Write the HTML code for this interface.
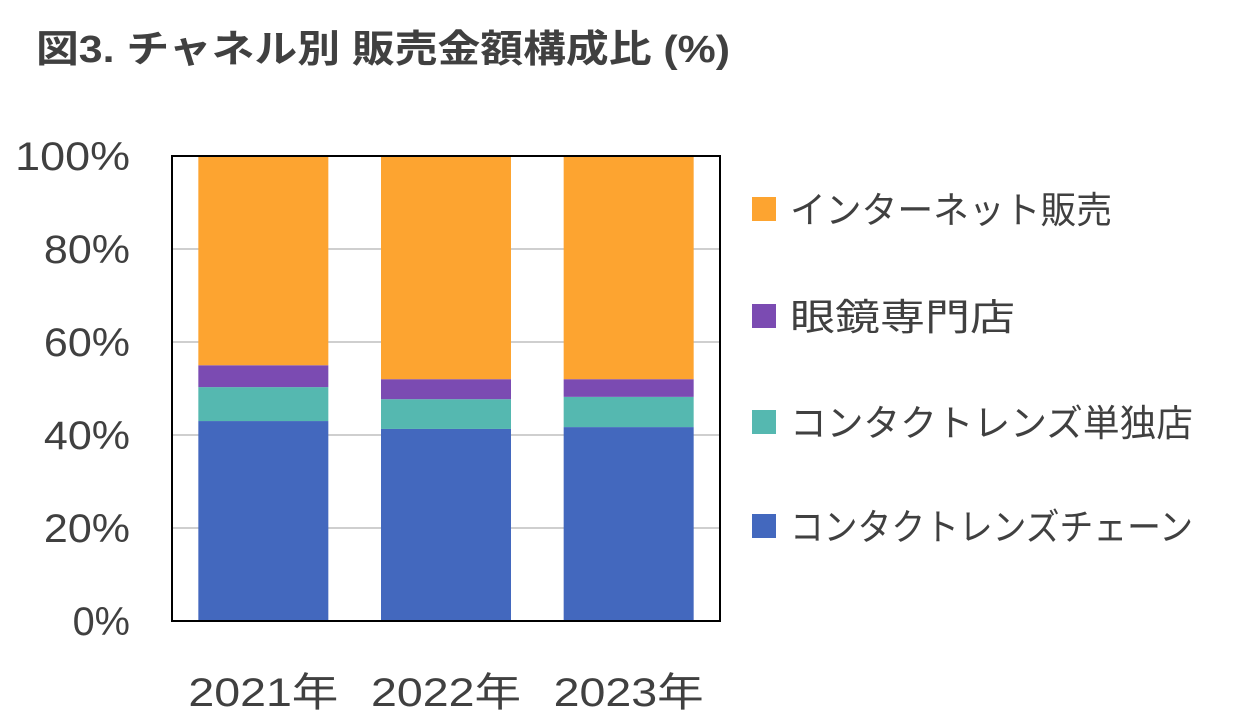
<!DOCTYPE html>
<html><head><meta charset="utf-8"><style>
body{margin:0;background:#fff;width:1238px;height:721px;overflow:hidden;font-family:"Liberation Sans","Noto Sans CJK JP",sans-serif;}
</style></head><body>
<svg id="chart" width="1238" height="721" xmlns="http://www.w3.org/2000/svg">
<text x="36" y="62" font-size="38" font-weight="bold" fill="#404040" textLength="694" lengthAdjust="spacingAndGlyphs" font-family="Liberation Sans, Noto Sans CJK JP, sans-serif">図3. チャネル別 販売金額構成比 (%)</text>
<g id="grid"></g><g id="bars"></g><g id="axes"></g><g id="legend"></g>
</svg>
<script>
const categories=["2021年","2022年","2023年"];
const seriesNames=["コンタクトレンズチェーン","コンタクトレンズ単独店","眼鏡専門店","インターネット販売"];
const chain=[43.0,41.3,41.7];
const single=[7.3,6.4,6.5];
const optical=[4.7,4.3,3.8];
const internet=[45.0,48.0,48.0];
const ticks=[0,20,40,60,80,100];
const colors=["#4368BE","#55B8B0","#7B4BB2","#FDA430"];
const legendWidths=[403,403,225,322];
const series=[chain,single,optical,internet];
const ns="http://www.w3.org/2000/svg";
const L=172,R=720,T=156,B=621;
const y=v=>B-(v/100)*(B-T);
const bw=(R-L)/categories.length, barW=130;
function mk(tag,attrs,parent){const e=document.createElementNS(ns,tag);for(const k in attrs)e.setAttribute(k,attrs[k]);parent.appendChild(e);return e;}
const grid=document.getElementById('grid'),bars=document.getElementById('bars'),axes=document.getElementById('axes'),legend=document.getElementById('legend');
ticks.forEach(t=>{
  const ln=mk('line',{x1:L,x2:R,y1:y(t),y2:y(t),stroke:'#BFBFBF','stroke-width':1.5},grid);
  
  
  const s=t+'%';
  const tx=mk('text',{x:130,y:y(t)+14,'text-anchor':'end','font-size':40,fill:'#404040',textLength:s.length*28.7,lengthAdjust:'spacingAndGlyphs'},axes);
  tx.textContent=s;
  
  
});
categories.forEach((c,i)=>{
  let acc=0;const cx=L+bw*(i+0.5);
  series.forEach((s,j)=>{
    const r=mk('rect',{x:cx-barW/2,y:y(acc+s[i]),width:barW,height:y(acc)-y(acc+s[i]),fill:colors[j]},bars);
    
    
    acc+=s[i];
  });
  const tx=mk('text',{x:cx,y:706,'text-anchor':'middle','font-size':40,fill:'#404040',textLength:150,lengthAdjust:'spacingAndGlyphs'},axes);
  tx.textContent=c;
  
  
});
const fr=mk('rect',{x:L,y:T,width:R-L,height:B-T,fill:'none',stroke:'#000','stroke-width':2},axes);


const ly=[526,422,316,209];
seriesNames.forEach((n,j)=>{
  const g=mk('g',{},legend);
  
  
  mk('rect',{x:752,y:ly[j]-12,width:24,height:24,fill:colors[j]},g);
  const tx=mk('text',{x:790,y:ly[j]+14,'font-size':37,fill:'#404040',textLength:legendWidths[j],lengthAdjust:'spacingAndGlyphs'},g);
  tx.textContent=n;
});
</script>
</body></html>
